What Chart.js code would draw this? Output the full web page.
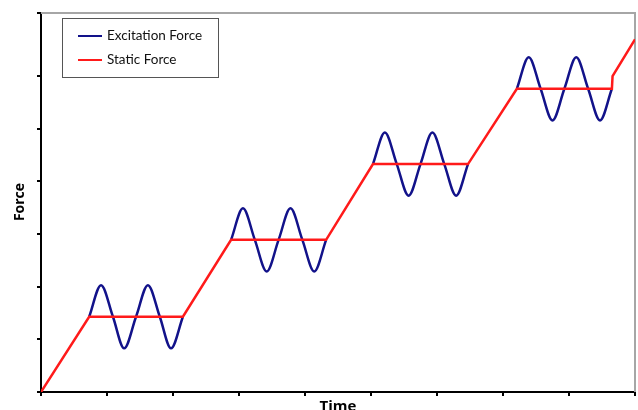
<!DOCTYPE html>
<html>
<head>
<meta charset="utf-8">
<script src="https://cdn.jsdelivr.net/npm/chart.js@4.4.1/dist/chart.umd.min.js"></script>
<style>
  html, body { margin: 0; padding: 0; background: #fff; }
  #wrap { width: 638px; height: 410px; }
</style>
</head>
<body>
<div id="wrap"><canvas id="forceChart"></canvas></div>
<script>
// Static force: ramps then holds (time, force)
var staticTime  = [0, 0.73, 2.15, 2.88, 4.32, 5.03, 6.47, 7.21, 8.65, 8.66, 9.0];
var staticForce = [0, 1.43, 1.43, 2.89, 2.89, 4.33, 4.33, 5.76, 5.76, 6.0, 6.7];

// Excitation force: read at start, peaks, crossings and troughs of each hold
var exciteTime  = [0.73, 0.91, 1.09, 1.26, 1.44, 1.62, 1.80, 1.97, 2.15, null,
                   2.88, 3.06, 3.24, 3.42, 3.60, 3.78, 3.96, 4.14, 4.32, null,
                   5.03, 5.21, 5.39, 5.57, 5.75, 5.93, 6.11, 6.29, 6.47, null,
                   7.21, 7.39, 7.57, 7.75, 7.93, 8.11, 8.29, 8.47, 8.65];
var exciteForce = [1.43, 2.03, 1.43, 0.83, 1.43, 2.03, 1.43, 0.83, 1.43, null,
                   2.89, 3.49, 2.89, 2.29, 2.89, 3.49, 2.89, 2.29, 2.89, null,
                   4.33, 4.93, 4.33, 3.73, 4.33, 4.93, 4.33, 3.73, 4.33, null,
                   5.76, 6.36, 5.76, 5.16, 5.76, 6.36, 5.76, 5.16, 5.76];

var seriesNames  = ["Excitation Force", "Static Force"];
var seriesColors = ["#12128a", "#ff1a1a"];
var axisTitles   = ["Time", "Force"];

function toPoints(xs, ys) {
    var pts = [];
    for (var i = 0; i < xs.length; i++) {
        pts.push({x: xs[i] === null ? NaN : xs[i], y: ys[i]});
    }
    return pts;
}

// frame, legend box and axis titles
var decorPlugin = {
    id: 'decor',
    beforeDatasetsDraw: function(chart) {
        var ctx = chart.ctx, a = chart.chartArea;
        ctx.save();
        ctx.strokeStyle = '#a6a6a6';
        ctx.lineWidth = 2;
        ctx.beginPath();
        ctx.moveTo(a.left, a.top);
        ctx.lineTo(a.right, a.top);
        ctx.lineTo(a.right, a.bottom);
        ctx.stroke();
        ctx.restore();
    },
    afterDraw: function(chart) {
        var ctx = chart.ctx, a = chart.chartArea;
        ctx.save();
        // legend
        ctx.fillStyle = '#fff';
        ctx.fillRect(62, 18, 156, 59);
        ctx.strokeStyle = '#555';
        ctx.lineWidth = 1;
        ctx.strokeRect(62.5, 18.5, 156, 59);
        ctx.font = '13.5px Lato, "Open Sans", sans-serif';
        ctx.textBaseline = 'middle';
        var rows = [36, 60];
        for (var i = 0; i < seriesNames.length; i++) {
            ctx.strokeStyle = seriesColors[i];
            ctx.lineWidth = 2;
            ctx.beginPath();
            ctx.moveTo(78, rows[i]);
            ctx.lineTo(102, rows[i]);
            ctx.stroke();
            ctx.fillStyle = '#111';
            ctx.textAlign = 'left';
            ctx.fillText(seriesNames[i], 107, rows[i]);
        }
        // titles
        ctx.fillStyle = '#000';
        ctx.textAlign = 'center';
        ctx.font = 'bold 15px "Open Sans", sans-serif';
        ctx.fillText(axisTitles[0], (a.left + a.right) / 2, 407);
        ctx.font = 'bold 14px "Open Sans", sans-serif';
        ctx.translate(20, 202);
        ctx.rotate(-Math.PI / 2);
        ctx.fillText(axisTitles[1], 0, 0);
        ctx.restore();
    }
};

var chart = new Chart(document.getElementById('forceChart'), {
    type: 'line',
    data: {
        datasets: [
            {
                label: seriesNames[0],
                data: toPoints(exciteTime, exciteForce),
                borderColor: seriesColors[0],
                borderWidth: 2.5,
                pointRadius: 0,
                cubicInterpolationMode: 'monotone',
                spanGaps: false,
                order: 2
            },
            {
                label: seriesNames[1],
                data: toPoints(staticTime, staticForce),
                borderColor: seriesColors[1],
                borderWidth: 2.5,
                pointRadius: 0,
                tension: 0,
                order: 1
            }
        ]
    },
    plugins: [decorPlugin],
    options: {
        responsive: true,
        maintainAspectRatio: false,
        animation: false,
        layout: { padding: { top: 13, right: 3, left: 0, bottom: 0 } },
        plugins: { legend: { display: false }, tooltip: { enabled: false } },
        scales: {
            x: {
                type: 'linear',
                min: 0,
                max: 9,
                ticks: { display: false, stepSize: 1 },
                grid: { drawOnChartArea: false, drawTicks: true, tickLength: 4, color: '#000', lineWidth: 2 },
                border: { color: '#000', width: 2 },
                afterFit: function(s) { s.height = 18; }
            },
            y: {
                min: 0,
                max: 7.2,
                ticks: { display: false, stepSize: 1 },
                grid: { drawOnChartArea: false, drawTicks: true, tickLength: 4, color: '#000', lineWidth: 2 },
                border: { color: '#000', width: 2 },
                afterFit: function(s) { s.width = 41; }
            }
        }
    }
});
</script>
</body>
</html>
